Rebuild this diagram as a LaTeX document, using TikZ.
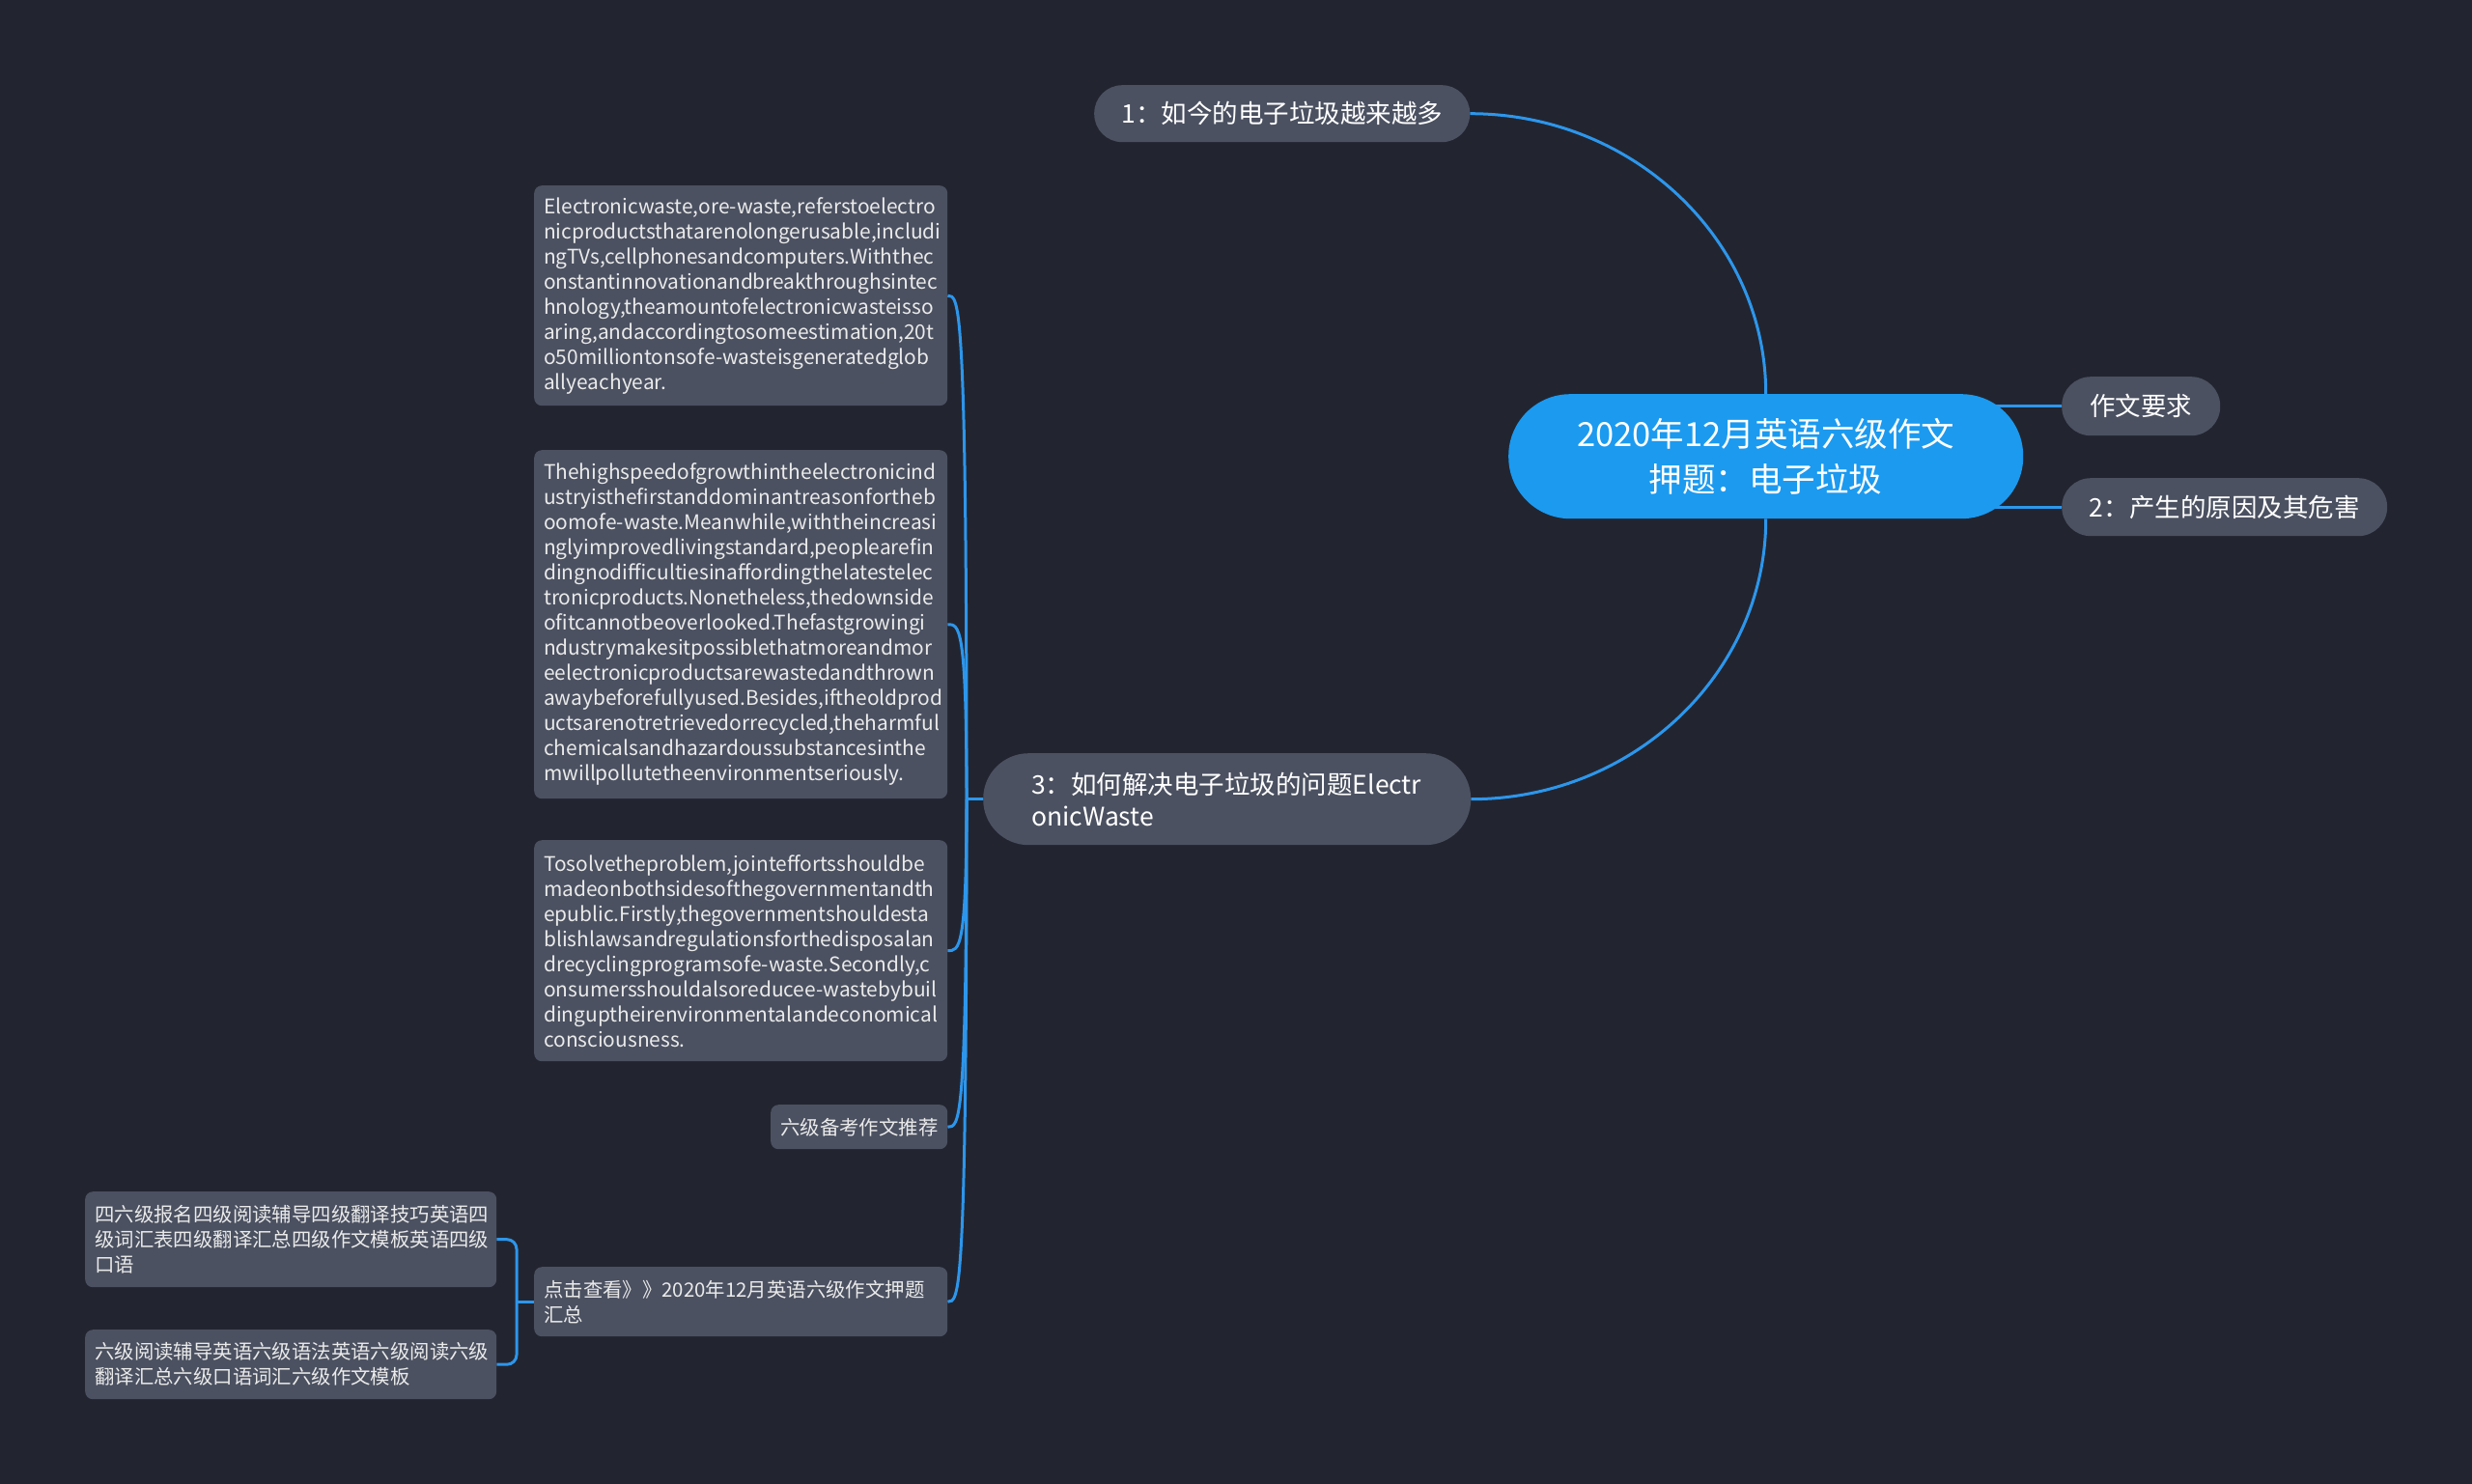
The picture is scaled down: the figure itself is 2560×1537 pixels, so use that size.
\documentclass[tikz,border=0pt]{standalone}
\usepackage{fontspec}
\setmainfont{Noto Sans CJK SC}
\usetikzlibrary{calc}
\pgfdeclarelayer{bglayer}
\pgfdeclarelayer{edgelayer}
\pgfsetlayers{bglayer,edgelayer,main}
\definecolor{bgc}{HTML}{222530}
\definecolor{nodec}{HTML}{4B5161}
\definecolor{rootc}{HTML}{1B9AF0}
\definecolor{edgec}{HTML}{2D96EB}
\definecolor{txtc}{HTML}{EAEAEA}
\tikzset{
  edge/.style={draw=edgec, line width=3pt},
  pill/.style={fill=nodec, text=white, anchor=north west, inner ysep=0pt,
    font=\fontsize{26.5}{33}\selectfont},
  rootnode/.style={fill=rootc, text=white, anchor=north west, inner sep=0pt,
    align=center, minimum width=533pt, minimum height=129pt, rounded corners=64pt,
    font=\fontsize{34.5}{47}\selectfont},
  tbox/.style={fill=nodec, text=txtc, anchor=north west, rounded corners=8pt,
    inner xsep=10pt, inner ysep=0pt, align=left,
    font=\fontsize{20.4}{26}\selectfont},
  ebox/.style={tbox, font=\fontsize{20.9}{26}\selectfont},
}
\begin{document}
\begin{tikzpicture}[x=1pt,y=-1pt]
\useasboundingbox (0,0) rectangle (2560,1537);
\begin{pgfonlayer}{bglayer}
\fill[bgc] (0,0) rectangle (2560,1537);
\end{pgfonlayer}

% root and first level
\node[rootnode] (root) at (1562,408) {2020年12月英语六级作文\\押题：电子垃圾};
\node[pill, inner xsep=0pt, minimum width=389pt, minimum height=59pt, rounded corners=29pt] (n1) at (1133,88) {1：如今的电子垃圾越来越多};
\node[pill, inner xsep=0pt, minimum width=164pt, minimum height=61pt, rounded corners=30pt] (n0) at (2135,390) {作文要求};
\node[pill, inner xsep=0pt, minimum width=337pt, minimum height=60pt, rounded corners=30pt] (n2) at (2135,495) {2：产生的原因及其危害};
\node[pill, inner xsep=50pt, text width=405pt, align=left, minimum height=95pt, rounded corners=47pt] (n3) at (1018,780) {3：如何解决电子垃圾的问题Electr\\onicWaste};

% text boxes
\node[ebox, text width=408pt, minimum height=228pt] (b1) at (553,192) {Electronicwaste,ore-waste,referstoelectro\\
nicproductsthatarenolongerusable,includi\\
ngTVs,cellphonesandcomputers.Withthec\\
onstantinnovationandbreakthroughsintec\\
hnology,theamountofelectronicwasteisso\\
aring,andaccordingtosomeestimation,20t\\
o50milliontonsofe-wasteisgeneratedglob\\
allyeachyear.};
\node[ebox, text width=408pt, minimum height=361pt] (b2) at (553,466) {Thehighspeedofgrowthintheelectronicind\\
ustryisthefirstanddominantreasonfortheb\\
oomofe-waste.Meanwhile,withtheincreasi\\
nglyimprovedlivingstandard,peoplearefin\\
dingnodifficultiesinaffordingthelatestelec\\
tronicproducts.Nonetheless,thedownside\\
ofitcannotbeoverlooked.Thefastgrowingi\\
ndustrymakesitpossiblethatmoreandmor\\
eelectronicproductsarewastedandthrown\\
awaybeforefullyused.Besides,iftheoldprod\\
uctsarenotretrievedorrecycled,theharmful\\
chemicalsandhazardoussubstancesinthe\\
mwillpollutetheenvironmentseriously.};
\node[ebox, text width=408pt, minimum height=229pt] (b3) at (553,870) {Tosolvetheproblem,jointeffortsshouldbe\\
madeonbothsidesofthegovernmentandth\\
epublic.Firstly,thegovernmentshouldesta\\
blishlawsandregulationsforthedisposalan\\
drecyclingprogramsofe-waste.Secondly,c\\
onsumersshouldalsoreducee-wastebybuil\\
dinguptheirenvironmentalandeconomical\\
consciousness.};
\node[tbox, text width=163pt, align=center, minimum height=46pt] (b4) at (798,1144) {六级备考作文推荐};
\node[tbox, text width=408pt, minimum height=72pt] (b5) at (553,1312) {点击查看》》2020年12月英语六级作文押题\\汇总};
\node[tbox, text width=406pt, minimum height=99pt] (b6) at (88,1234) {四六级报名四级阅读辅导四级翻译技巧英语四\\级词汇表四级翻译汇总四级作文模板英语四级\\口语};
\node[tbox, text width=406pt, minimum height=72pt] (b7) at (88,1377) {六级阅读辅导英语六级语法英语六级阅读六级\\翻译汇总六级口语词汇六级作文模板};

\begin{pgfonlayer}{edgelayer}
\draw[edge] (root.north) .. controls ($(root.north)!0.55!(root.north |- n1.east)$) and ($(n1.east)!0.55!(root.north |- n1.east)$) .. (n1.east);
\draw[edge] (root.south) .. controls ($(root.south)!0.55!(root.south |- n3.east)$) and ($(n3.east)!0.55!(root.south |- n3.east)$) .. (n3.east);
\draw[edge] (root.center |- n0.west) -- (n0.west);
\draw[edge] (root.center |- n2.west) -- (n2.west);
\coordinate (tj) at ($(n3.west)+(-17,0)$);
\draw[edge] (n3.west) -- (tj);
\foreach \b in {b1,b2,b3,b4,b5}{
  \draw[edge] (tj) .. controls (tj |- \b.east) and ($(\b.east)+(12,0)$) .. (\b.east);
}
\coordinate (bj) at ($(b5.west)+(-18,0)$);
\draw[edge] (b5.west) -- (bj);
\draw[edge, rounded corners=10pt] (bj) |- (b6.east);
\draw[edge, rounded corners=10pt] (bj) |- (b7.east);
\end{pgfonlayer}
\end{tikzpicture}
\end{document}
